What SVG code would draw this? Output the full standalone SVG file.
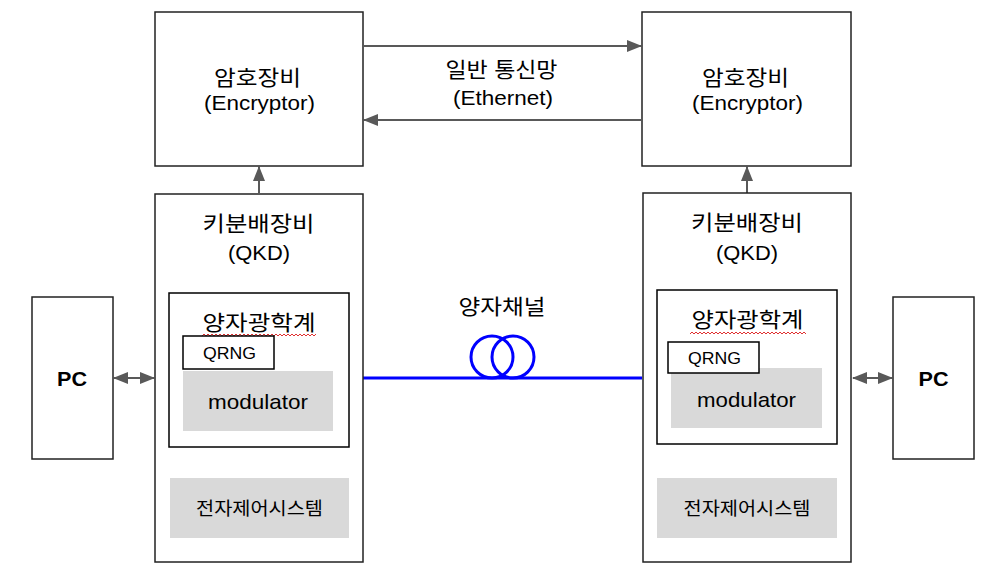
<svg xmlns="http://www.w3.org/2000/svg" width="1000" height="582" viewBox="0 0 1000 582">
<defs>
<style>
.box{fill:#fff;stroke:#222;stroke-width:1.5}
.inner{fill:#fff;stroke:#000;stroke-width:1.5}
.gray{fill:#d9d9d9;stroke:none}
.t{font-family:"Liberation Sans","Noto Sans CJK KR",sans-serif;fill:#000;text-anchor:middle}
.k{font-size:21px}
.l{font-size:21px}
.arr{stroke:#595959;stroke-width:2;fill:none}
.fiber{stroke:#0000ff;stroke-width:3;fill:none}
.sq{stroke:#e03030;stroke-width:1;fill:none}
</style>
<marker id="ah" viewBox="0 0 15 12" refX="14" refY="6" markerWidth="15" markerHeight="12" orient="auto-start-reverse" markerUnits="userSpaceOnUse">
<path d="M0,0 L15,6 L0,12 z" fill="#595959"/>
</marker>
</defs>
<g id="connectors">
<line class="arr" x1="364" y1="46" x2="641" y2="46" marker-end="url(#ah)"/>
<line class="arr" x1="641" y1="120" x2="364" y2="120" marker-end="url(#ah)"/>
<line class="arr" x1="259" y1="193" x2="259" y2="167" marker-end="url(#ah)"/>
<line class="arr" x1="747" y1="193" x2="747" y2="167" marker-end="url(#ah)"/>
<line class="arr" x1="259" y1="432" x2="259" y2="477" marker-start="url(#ah)" marker-end="url(#ah)"/>
<line class="arr" x1="746" y1="429" x2="746" y2="477" marker-start="url(#ah)" marker-end="url(#ah)"/>
<line class="arr" x1="114" y1="378" x2="154" y2="378" marker-start="url(#ah)" marker-end="url(#ah)"/>
<line class="arr" x1="853" y1="378" x2="892" y2="378" marker-start="url(#ah)" marker-end="url(#ah)"/>
<line class="fiber" x1="363" y1="378" x2="642" y2="378"/>
<circle class="fiber" cx="492" cy="357" r="21"/>
<circle class="fiber" cx="513" cy="357" r="21"/>
<text class="t k" x="501.5" y="77" textLength="112" lengthAdjust="spacingAndGlyphs">일반 통신망</text>
<text class="t l" x="503" y="105" textLength="100" lengthAdjust="spacingAndGlyphs">(Ethernet)</text>
<text class="t k" x="502" y="314" textLength="87" lengthAdjust="spacingAndGlyphs">양자채널</text>
</g>
<g id="enc-left">
<rect class="box" x="155" y="12" width="208" height="154"/>
<text class="t k" x="257.5" y="85" textLength="87" lengthAdjust="spacingAndGlyphs">암호장비</text>
<text class="t l" x="259.5" y="110" textLength="111" lengthAdjust="spacingAndGlyphs">(Encryptor)</text>
</g>
<g id="enc-right">
<rect class="box" x="642" y="12" width="209" height="154"/>
<text class="t k" x="745.5" y="85" textLength="87" lengthAdjust="spacingAndGlyphs">암호장비</text>
<text class="t l" x="747.5" y="110" textLength="111" lengthAdjust="spacingAndGlyphs">(Encryptor)</text>
</g>
<g id="qkd-left">
<rect class="box" x="155" y="194" width="208" height="368"/>
<text class="t k" x="258.5" y="231" textLength="112" lengthAdjust="spacingAndGlyphs">키분배장비</text>
<text class="t l" x="259" y="260" textLength="62" lengthAdjust="spacingAndGlyphs">(QKD)</text>
</g>
<g id="qkd-right">
<rect class="box" x="643" y="193" width="208" height="369"/>
<text class="t k" x="747" y="230" textLength="112" lengthAdjust="spacingAndGlyphs">키분배장비</text>
<text class="t l" x="747" y="260" textLength="62" lengthAdjust="spacingAndGlyphs">(QKD)</text>
</g>
<g id="optics-left">
<rect class="inner" x="169" y="293" width="180" height="154"/>
<text class="t k" x="259" y="330" textLength="113" lengthAdjust="spacingAndGlyphs">양자광학계</text>
<path class="sq" d="M202,336 l2,-2 l2,2 l2,-2 l2,2 l2,-2 l2,2 l2,-2 l2,2 l2,-2 l2,2 l2,-2 l2,2 l2,-2 l2,2 l2,-2 l2,2 l2,-2 l2,2 l2,-2 l2,2 l2,-2 l2,2 l2,-2 l2,2 l2,-2 l2,2 l2,-2 l2,2 l2,-2 l2,2 l2,-2 l2,2 l2,-2 l2,2 l2,-2 l2,2 l2,-2 l2,2 l2,-2 l2,2 l2,-2 l2,2 l2,-2 l2,2 l2,-2 l2,2 l2,-2 l2,2 l2,-2 l2,2 l2,-2 l2,2 l2,-2 l2,2 l2,-2 l2,2 l2,-2"/>
</g>
<g id="optics-right">
<rect class="inner" x="657" y="290" width="180" height="154" stroke-width="2"/>
<text class="t k" x="747.5" y="327" textLength="112" lengthAdjust="spacingAndGlyphs">양자광학계</text>
<path class="sq" d="M690,334 l2,-2 l2,2 l2,-2 l2,2 l2,-2 l2,2 l2,-2 l2,2 l2,-2 l2,2 l2,-2 l2,2 l2,-2 l2,2 l2,-2 l2,2 l2,-2 l2,2 l2,-2 l2,2 l2,-2 l2,2 l2,-2 l2,2 l2,-2 l2,2 l2,-2 l2,2 l2,-2 l2,2 l2,-2 l2,2 l2,-2 l2,2 l2,-2 l2,2 l2,-2 l2,2 l2,-2 l2,2 l2,-2 l2,2 l2,-2 l2,2 l2,-2 l2,2 l2,-2 l2,2 l2,-2 l2,2 l2,-2 l2,2 l2,-2 l2,2 l2,-2 l2,2 l2,-2 l2,2"/>
</g>
<g id="mod-left">
<rect class="gray" x="183" y="371" width="150" height="60"/>
<text class="t l" x="258" y="409" textLength="100" lengthAdjust="spacingAndGlyphs">modulator</text>
</g>
<g id="qrng-left">
<rect class="inner" x="183" y="336" width="91" height="33"/>
<text class="t" x="229.5" y="359" font-size="17" textLength="53" lengthAdjust="spacingAndGlyphs">QRNG</text>
</g>
<g id="mod-right">
<rect class="gray" x="671" y="368" width="151" height="60"/>
<text class="t l" x="746.5" y="407" textLength="99" lengthAdjust="spacingAndGlyphs">modulator</text>
</g>
<g id="qrng-right">
<rect class="inner" x="668" y="342" width="91" height="31"/>
<text class="t" x="714.5" y="364" font-size="17" textLength="53" lengthAdjust="spacingAndGlyphs">QRNG</text>
</g>
<g id="ctrl-left">
<rect class="gray" x="170" y="478" width="179" height="60"/>
<text class="t" x="259.5" y="515" font-size="18" fill="#333" textLength="127" lengthAdjust="spacingAndGlyphs">전자제어시스템</text>
</g>
<g id="ctrl-right">
<rect class="gray" x="657" y="478" width="180" height="60"/>
<text class="t" x="747" y="515" font-size="18" fill="#333" textLength="127" lengthAdjust="spacingAndGlyphs">전자제어시스템</text>
</g>
<g id="pc-left">
<rect class="box" x="32" y="297" width="81" height="162"/>
<text class="t" x="72" y="386" font-size="21" font-weight="bold" textLength="30" lengthAdjust="spacingAndGlyphs">PC</text>
</g>
<g id="pc-right">
<rect class="box" x="893" y="297" width="81" height="162"/>
<text class="t" x="933.5" y="386" font-size="21" font-weight="bold" textLength="30" lengthAdjust="spacingAndGlyphs">PC</text>
</g>
</svg>
